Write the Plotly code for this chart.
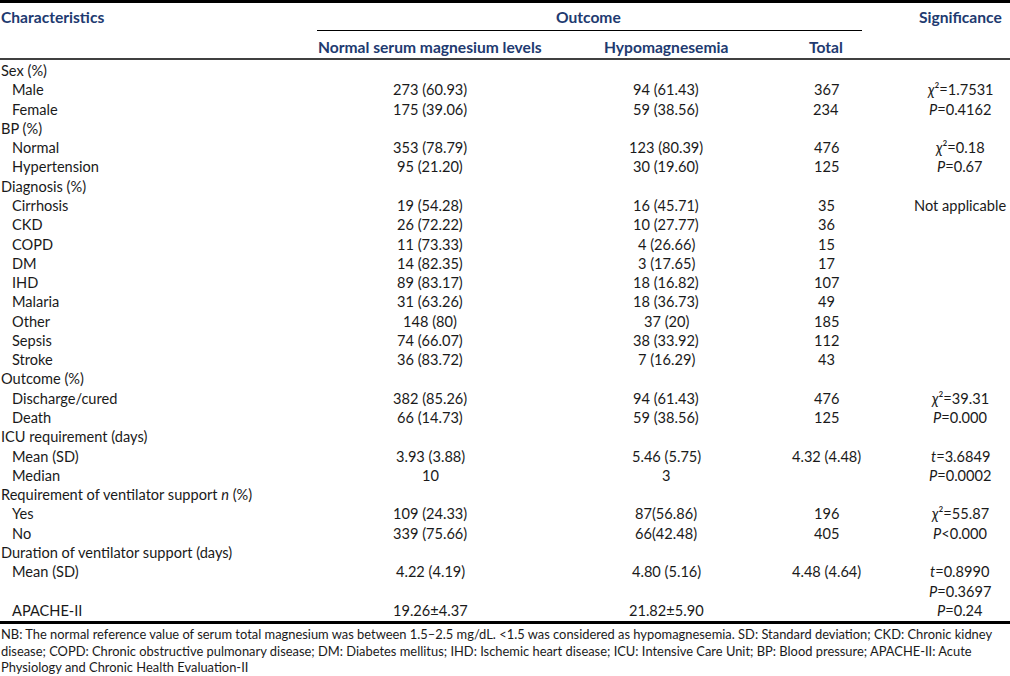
import plotly.graph_objects as go

# ---------------- data ----------------
row_labels = ["Sex (%)", "Male", "Female", "BP (%)", "Normal", "Hypertension",
              "Diagnosis (%)", "Cirrhosis", "CKD", "COPD", "DM", "IHD", "Malaria",
              "Other", "Sepsis", "Stroke", "Outcome (%)", "Discharge/cured", "Death",
              "ICU requirement (days)", "Mean (SD)", "Median",
              "Requirement of ventilator support <i>n</i> (%)", "Yes", "No",
              "Duration of ventilator support (days)", "Mean (SD)", "", "APACHE-II"]
row_indent = [0, 1, 1, 0, 1, 1, 0, 1, 1, 1, 1, 1, 1, 1, 1, 1, 0, 1, 1, 0, 1, 1,
              0, 1, 1, 0, 1, 1, 1]
normal_mg = ["", "273 (60.93)", "175 (39.06)", "", "353 (78.79)", "95 (21.20)", "",
             "19 (54.28)", "26 (72.22)", "11 (73.33)", "14 (82.35)", "89 (83.17)",
             "31 (63.26)", "148 (80)", "74 (66.07)", "36 (83.72)", "",
             "382 (85.26)", "66 (14.73)", "", "3.93 (3.88)", "10", "",
             "109 (24.33)", "339 (75.66)", "", "4.22 (4.19)", "", "19.26±4.37"]
hypo_mg = ["", "94 (61.43)", "59 (38.56)", "", "123 (80.39)", "30 (19.60)", "",
           "16 (45.71)", "10 (27.77)", "4 (26.66)", "3 (17.65)", "18 (16.82)",
           "18 (36.73)", "37 (20)", "38 (33.92)", "7 (16.29)", "",
           "94 (61.43)", "59 (38.56)", "", "5.46 (5.75)", "3", "",
           "87(56.86)", "66(42.48)", "", "4.80 (5.16)", "", "21.82±5.90"]
total = ["", "367", "234", "", "476", "125", "", "35", "36", "15", "17", "107",
         "49", "185", "112", "43", "", "476", "125", "", "4.32 (4.48)", "", "",
         "196", "405", "", "4.48 (4.64)", "", ""]
significance = ["", "χ²=1.7531", "P=0.4162", "", "χ²=0.18", "P=0.67", "",
                "Not applicable", "", "", "", "", "", "", "", "", "",
                "χ²=39.31", "P=0.000", "", "t=3.6849", "P=0.0002", "",
                "χ²=55.87", "P<0.000", "", "t=0.8990", "P=0.3697", "P=0.24"]

header_top = ["Characteristics", "Outcome", "Significance"]
header_sub = ["Normal serum magnesium levels", "Hypomagnesemia", "Total"]

footnote = [
    "NB: The normal reference value of serum total magnesium was between 1.5–2.5 mg/dL. <1.5 was considered as hypomagnesemia. SD: Standard deviation; CKD: Chronic kidney",
    "disease; COPD: Chronic obstructive pulmonary disease; DM: Diabetes mellitus; IHD: Ischemic heart disease; ICU: Intensive Care Unit; BP: Blood pressure; APACHE-II: Acute",
    "Physiology and Chronic Health Evaluation-II",
]

# ---------------- styling ----------------
W, H = 1010, 676
FONT = "Lato"
HEAD_COLOR = "#213a70"
TXT = "#1a1a1a"
FS = 14.6
FS_HEAD = 15.6
FS_NOTE = 12.9
ROW0 = 70.5
STEP = 19.28
col_x = {"normal": 430, "hypo": 666, "total": 826, "sig": 960}


def fmt_sig(s):
    s = s.replace("<", "&lt;")
    if s.startswith("χ"):
        return "<i>χ</i>" + s[1:]
    if s.startswith("P") or s.startswith("t="):
        return "<i>" + s[0] + "</i>" + s[1:]
    return s


ann = []


def add(text, x, y, xanchor="center", size=FS, color=TXT, bold=False):
    if not text:
        return
    if bold:
        text = "<b>" + text + "</b>"
    ann.append(dict(x=x, y=y, xref="x", yref="y", text=text, showarrow=False,
                    xanchor=xanchor, yanchor="middle", borderpad=0,
                    font=dict(family=FONT, size=size, color=color)))


# headers
add(header_top[0], 0, 17, "left", size=FS_HEAD, color=HEAD_COLOR, bold=True)
add(header_top[1], 588, 17, size=FS_HEAD, color=HEAD_COLOR, bold=True)
add(header_top[2], col_x["sig"], 17, size=FS_HEAD, color=HEAD_COLOR, bold=True)
add(header_sub[0], col_x["normal"], 47, size=FS_HEAD, color=HEAD_COLOR, bold=True)
add(header_sub[1], col_x["hypo"], 47, size=FS_HEAD, color=HEAD_COLOR, bold=True)
add(header_sub[2], col_x["total"], 47, size=FS_HEAD, color=HEAD_COLOR, bold=True)

# body
for i, lab in enumerate(row_labels):
    y = ROW0 + STEP * i
    add(lab, 11 if row_indent[i] else 0, y, "left")
    add(normal_mg[i], col_x["normal"], y)
    add(hypo_mg[i], col_x["hypo"], y)
    add(total[i], col_x["total"], y)
    add(fmt_sig(significance[i]), col_x["sig"], y)

# footnote
for j, line in enumerate(footnote):
    add(line.replace("<", "&lt;"), 0, 634 + 16.6 * j, "left", size=FS_NOTE)

shapes = [
    dict(type="line", xref="x", yref="y", x0=0, x1=W, y0=1.5, y1=1.5,
         line=dict(color="black", width=3)),
    dict(type="line", xref="x", yref="y", x0=317, x1=862, y0=30.5, y1=30.5,
         line=dict(color="black", width=1)),
    dict(type="line", xref="x", yref="y", x0=0, x1=W, y0=59, y1=59,
         line=dict(color="black", width=1.3)),
    dict(type="line", xref="x", yref="y", x0=0, x1=W, y0=622.5, y1=622.5,
         line=dict(color="black", width=3)),
]

fig = go.Figure()
fig.update_layout(
    width=W, height=H, margin=dict(l=0, r=0, t=0, b=0),
    paper_bgcolor="white", plot_bgcolor="white",
    xaxis=dict(range=[0, W], visible=False, fixedrange=True),
    yaxis=dict(range=[H, 0], visible=False, fixedrange=True),
    annotations=ann, shapes=shapes, showlegend=False,
)
fig.write_html("out.html", config={"displayModeBar": False},
               post_script="document.body.style.margin='0px';document.body.style.overflow='hidden';")
